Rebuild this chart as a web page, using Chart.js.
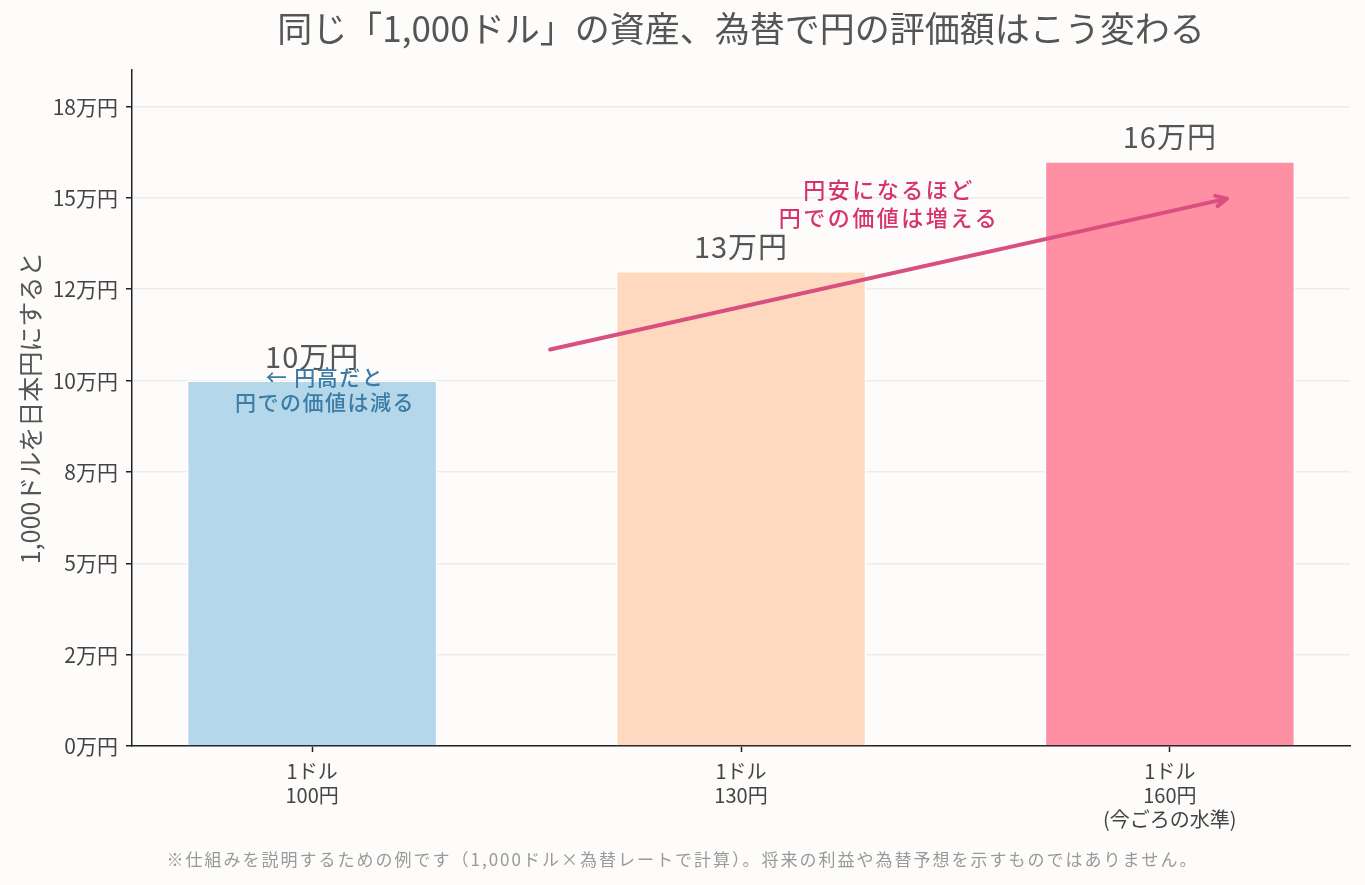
<!DOCTYPE html>
<html>
<head>
<meta charset="utf-8">
<script src="https://cdn.jsdelivr.net/npm/chart.js@4.4.0/dist/chart.umd.min.js"></script>
<style>
  html, body { margin: 0; background: #fdfcfa; }
</style>
</head>
<body>
<canvas id="myChart" width="1365" height="885"></canvas>
<script>
const FONT = '"Noto Sans CJK JP", "Noto Sans", sans-serif';

// data
const categories = [['1ドル', '100円'], ['1ドル', '130円'], ['1ドル', '160円', '(今ごろの水準)']];
const values = [100000, 130000, 160000];
const valueLabels = ['10万円', '13万円', '16万円'];
const barColors = ['#b4d8ea', '#fed9bf', '#ff8fa3'];
const yTicks = [0, 25000, 50000, 75000, 100000, 125000, 150000, 175000];
const yTickLabels = ['0万円', '2万円', '5万円', '8万円', '10万円', '12万円', '15万円', '18万円'];

// annotations (data coordinates)
const arrowFrom = [0.555, 108500];
const arrowTo = [2.133, 149800];
const noteUp = ['円安になるほど', '円での価値は増える'];
const noteUpPos = [1.345, 152300];
const noteDown = ['← 円高だと', '円での価値は減る'];
const noteDownPos = [0.03, 101000];
const footnote = '※仕組みを説明するための例です（1,000ドル×為替レートで計算）。将来の利益や為替予想を示すものではありません。';

const notes = {
  id: 'notes',
  beforeDraw(chart) {
    const ctx = chart.ctx;
    ctx.save();
    ctx.fillStyle = '#fdfcfa';
    ctx.fillRect(0, 0, chart.width, chart.height);
    ctx.restore();
  },
  afterDatasetsDraw(chart) {
    const { ctx, scales: { x, y } } = chart;
    ctx.save();
    ctx.textAlign = 'center';
    ctx.textBaseline = 'middle';

    // value labels above bars
    ctx.fillStyle = '#555';
    ctx.font = '29px ' + FONT;
    ctx.letterSpacing = '1px';
    chart.getDatasetMeta(0).data.forEach((bar, i) => {
      ctx.fillText(valueLabels[i], bar.x, bar.y - 24);
    });

    // arrow
    const x0 = x.getPixelForValue(arrowFrom[0]), y0 = y.getPixelForValue(arrowFrom[1]);
    const x1 = x.getPixelForValue(arrowTo[0]), y1 = y.getPixelForValue(arrowTo[1]);
    ctx.strokeStyle = '#d94f80';
    ctx.lineWidth = 4;
    ctx.lineCap = 'round';
    ctx.lineJoin = 'round';
    ctx.beginPath();
    ctx.moveTo(x0, y0);
    ctx.lineTo(x1, y1);
    const a = Math.atan2(y1 - y0, x1 - x0);
    ctx.moveTo(x1 - 12 * Math.cos(a - 0.45), y1 - 12 * Math.sin(a - 0.45));
    ctx.lineTo(x1, y1);
    ctx.lineTo(x1 - 12 * Math.cos(a + 0.45), y1 - 12 * Math.sin(a + 0.45));
    ctx.stroke();

    // annotation texts
    ctx.font = '500 22px ' + FONT;
    ctx.letterSpacing = '2.5px';
    ctx.fillStyle = '#d6336c';
    let cx = x.getPixelForValue(noteUpPos[0]), cy = y.getPixelForValue(noteUpPos[1]);
    noteUp.forEach((t, i) => ctx.fillText(t, cx, cy + i * 28));

    ctx.font = '500 21px ' + FONT;
    ctx.letterSpacing = '1.5px';
    ctx.fillStyle = '#3a7ca5';
    cx = x.getPixelForValue(noteDownPos[0]); cy = y.getPixelForValue(noteDownPos[1]);
    noteDown.forEach((t, i) => ctx.fillText(t, cx, cy + i * 25));
    ctx.restore();
  },
  afterDraw(chart) {
    const ctx = chart.ctx;
    ctx.save();
    ctx.font = '17px ' + FONT;
    ctx.letterSpacing = '2px';
    ctx.fillStyle = '#999';
    ctx.textAlign = 'center';
    ctx.textBaseline = 'middle';
    ctx.fillText(footnote, chart.width / 2, 860);
    ctx.restore();
  }
};

const ctx = document.getElementById('myChart').getContext('2d');
new Chart(ctx, {
  type: 'bar',
  data: {
    datasets: [{
      data: values.map((v, i) => ({ x: i, y: v })),
      backgroundColor: barColors,
      borderColor: '#ffffff',
      borderWidth: 1.5,
      categoryPercentage: 1,
      barPercentage: 0.584
    }]
  },
  options: {
    responsive: false,
    animation: false,
    layout: { padding: { left: 0, right: 15, top: 0, bottom: 0 } },
    plugins: {
      legend: { display: false },
      tooltip: { enabled: false },
      title: {
        display: true,
        fullSize: false,
        text: '同じ「1,000ドル」の資産、為替で円の評価額はこう変わる',
        color: '#555',
        font: { family: FONT, size: 35, weight: 'normal' },
        padding: { top: 8, bottom: 20 }
      }
    },
    scales: {
      x: {
        type: 'linear',
        offset: false,
        min: -0.42,
        max: 2.42,
        afterBuildTicks: (s) => { s.ticks = categories.map((c, i) => ({ value: i })); },
        afterFit: (s) => { s.height = 139; },
        ticks: {
          callback: (v) => categories[v],
          color: '#444',
          font: { family: FONT, size: 20 },
          padding: 7,
          autoSkip: false,
          maxRotation: 0
        },
        grid: { offset: false, drawOnChartArea: false, tickLength: 6, tickColor: '#222', tickWidth: 1.5 },
        border: { color: '#222', width: 1.5 }
      },
      y: {
        min: 0,
        max: 185000,
        afterBuildTicks: (s) => { s.ticks = yTicks.map(v => ({ value: v })); },
        afterFit: (s) => { s.width = 132; },
        ticks: {
          callback: (v) => yTickLabels[yTicks.indexOf(v)],
          color: '#444',
          font: { family: FONT, size: 21 },
          padding: 8
        },
        grid: { color: '#ececec', lineWidth: 1.5, tickColor: '#222', tickLength: 6, tickWidth: 1.5 },
        border: { color: '#222', width: 1.5 },
        title: {
          display: true,
          text: '1,000ドルを日本円にすると',
          color: '#555',
          font: { family: FONT, size: 25 },
          padding: { top: 15, bottom: 0 }
        }
      }
    }
  },
  plugins: [notes]
});
</script>
</body>
</html>
